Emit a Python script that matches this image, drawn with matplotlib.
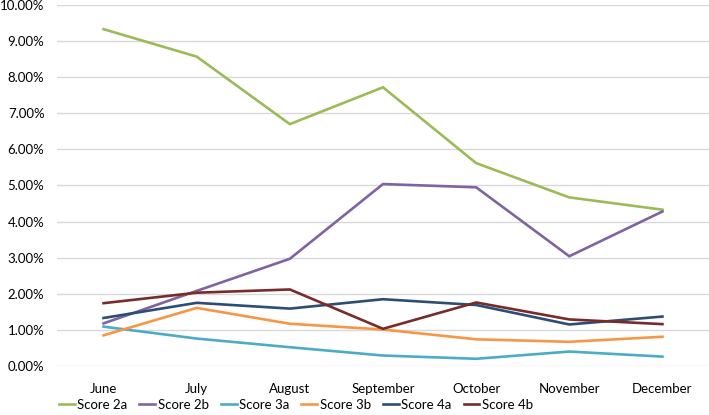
import matplotlib.pyplot as plt
from matplotlib.ticker import PercentFormatter

plt.rcParams['font.family'] = ['Lato', 'DejaVu Sans']

months = ['June', 'July', 'August', 'September', 'October', 'November', 'December']

score_2a = [9.33, 8.57, 6.70, 7.72, 5.62, 4.67, 4.33]
score_2b = [1.18, 2.08, 2.97, 5.04, 4.95, 3.04, 4.28]
score_3a = [1.09, 0.76, 0.52, 0.29, 0.20, 0.40, 0.26]
score_3b = [0.85, 1.61, 1.17, 1.01, 0.74, 0.67, 0.81]
score_4a = [1.33, 1.75, 1.59, 1.85, 1.69, 1.15, 1.37]
score_4b = [1.74, 2.03, 2.12, 1.03, 1.76, 1.29, 1.16]

series = [
    ('Score 2a', score_2a, '#9BBB59'),
    ('Score 2b', score_2b, '#8064A2'),
    ('Score 3a', score_3a, '#4BACC6'),
    ('Score 3b', score_3b, '#F79646'),
    ('Score 4a', score_4a, '#2C4D75'),
    ('Score 4b', score_4b, '#772C2A'),
]

fig = plt.figure(figsize=(7.09, 4.15), dpi=100)
ax = fig.add_axes([57 / 709, 1 - 366 / 415, 652 / 709, 361 / 415])

x = range(len(months))
for name, vals, col in series:
    ax.plot(x, vals, color=col, lw=1.9, label=name, solid_joinstyle='miter')

ax.set_xlim(-0.5, len(months) - 0.5)
ax.set_ylim(0, 10)
ax.set_yticks(range(0, 11))
ax.yaxis.set_major_formatter(PercentFormatter(decimals=2))
ax.set_xticks(list(x))
ax.set_xticklabels(months)
ax.grid(axis='y', color='#D9D9D9', lw=1)
ax.set_axisbelow(True)
for s in ax.spines.values():
    s.set_visible(False)
ax.tick_params(length=0, labelsize=9.5, colors='#000000')
ax.tick_params(axis='x', pad=12)
ax.tick_params(axis='y', pad=9)

fig.legend(loc='center', bbox_to_anchor=(296 / 709, 1 - 405 / 415), ncol=6,
           frameon=False, fontsize=9.5, handlelength=1.2, handletextpad=0.2,
           columnspacing=0.9)

plt.savefig('out.png', dpi=100)
